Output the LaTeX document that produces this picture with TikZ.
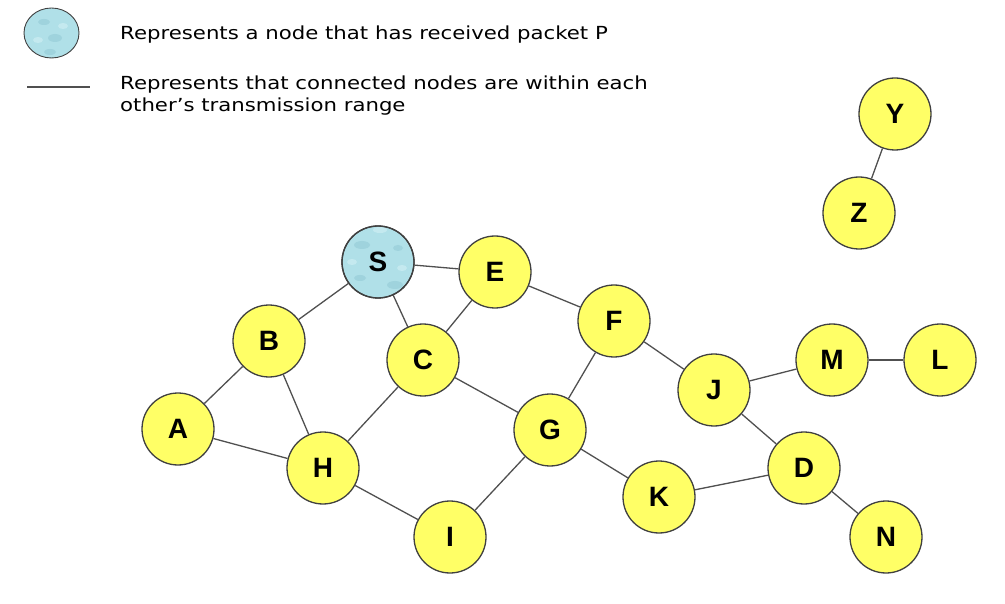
\documentclass[tikz,border=0pt]{standalone}
\usepackage{fontspec}
\usetikzlibrary{shapes.geometric}
\setmainfont{Liberation Sans}
\newfontfamily\legendfont[FakeStretch=1.18]{DejaVu Sans}
\definecolor{nodeyellow}{RGB}{255,255,102}
\definecolor{nodeline}{RGB}{64,64,64}
\definecolor{edgegray}{RGB}{80,80,80}
\definecolor{recvblue}{RGB}{176,224,232}
\definecolor{recvdark}{RGB}{140,196,208}
\definecolor{recvlight}{RGB}{210,240,245}
\begin{document}
\begin{tikzpicture}[x=1pt,y=-1pt,
  netnode/.style={circle,draw=nodeline,line width=1.3pt,fill=nodeyellow,minimum size=72pt,inner sep=0pt,font=\fontsize{28}{30}\selectfont\bfseries},
  recvnode/.style={netnode,fill=recvblue},
  link/.style={draw=edgegray,line width=1.3pt},
  drop/.style={fill=recvdark,opacity=0.45},
  shine/.style={fill=recvlight,opacity=0.6},
  legendtext/.style={anchor=west,font=\legendfont\fontsize{18}{22}\selectfont,align=left,inner sep=0pt}]
\useasboundingbox (0,0) rectangle (1005,604);
% legend
\node[ellipse,fill=recvblue,minimum width=55pt,minimum height=50pt,inner sep=0pt] (legS) at (51.5,33) {};
\begin{scope}
  \clip (51.5,33) ellipse (27pt and 24pt);
  \fill[drop] (44,22) ellipse (6pt and 3pt);
  \fill[drop] (55,38) ellipse (7pt and 4pt);
  \fill[drop] (50,52) ellipse (6pt and 3pt);
  \fill[shine] (63,26) ellipse (5pt and 3pt);
  \fill[shine] (38,40) ellipse (5pt and 3pt);
\end{scope}
\draw[draw=nodeline,line width=0.9pt] (legS.center) ellipse (27.5pt and 25pt);
\node[legendtext] (leg1) at (120,35) {Represents a node that has received packet P};
\coordinate (legA) at (27,87);
\coordinate (legB) at (90,87);
\draw[link] (legA) -- (legB);
\node[legendtext] (leg2) at (120,96) {Represents that connected nodes are within each\\other’s transmission range};
% nodes
\node[recvnode] (S) at (378,262) {};
\begin{scope}
  \clip (S.center) circle (35pt);
  \fill[drop] (362,245) ellipse (8pt and 4pt);
  \fill[drop] (395,285) ellipse (8pt and 4pt);
  \fill[drop] (360,278) ellipse (6pt and 3pt);
  \fill[drop] (398,248) ellipse (5pt and 3pt);
  \fill[shine] (380,230) ellipse (7pt and 3pt);
  \fill[shine] (352,262) ellipse (5pt and 3pt);
  \fill[shine] (402,268) ellipse (5pt and 3pt);
\end{scope}
\draw[draw=nodeline,line width=1.3pt] (S.center) circle (36pt);
\node[font=\fontsize{28}{30}\selectfont\bfseries] (Slabel) at (S.center) {S};
\node[netnode] (E) at (495,272) {E};
\node[netnode] (F) at (614,321) {F};
\node[netnode] (B) at (269,341) {B};
\node[netnode] (C) at (423,360) {C};
\node[netnode] (J) at (714,390) {J};
\node[netnode] (M) at (832,360) {M};
\node[netnode] (L) at (940,360) {L};
\node[netnode] (A) at (178,429) {A};
\node[netnode] (G) at (550,430) {G};
\node[netnode] (H) at (323,468) {H};
\node[netnode] (D) at (804,468) {D};
\node[netnode] (K) at (659,497) {K};
\node[netnode] (I) at (450,537) {I};
\node[netnode] (N) at (886,537) {N};
\node[netnode] (Y) at (895,114) {Y};
\node[netnode] (Z) at (859,213) {Z};
% links
\foreach \a/\b in {S/E,S/B,S/C,E/C,E/F,B/A,B/H,A/H,C/H,C/G,H/I,I/G,G/F,G/K,F/J,J/M,M/L,J/D,K/D,D/N,Y/Z}
  \draw[link] (\a) -- (\b);
\end{tikzpicture}
\end{document}
